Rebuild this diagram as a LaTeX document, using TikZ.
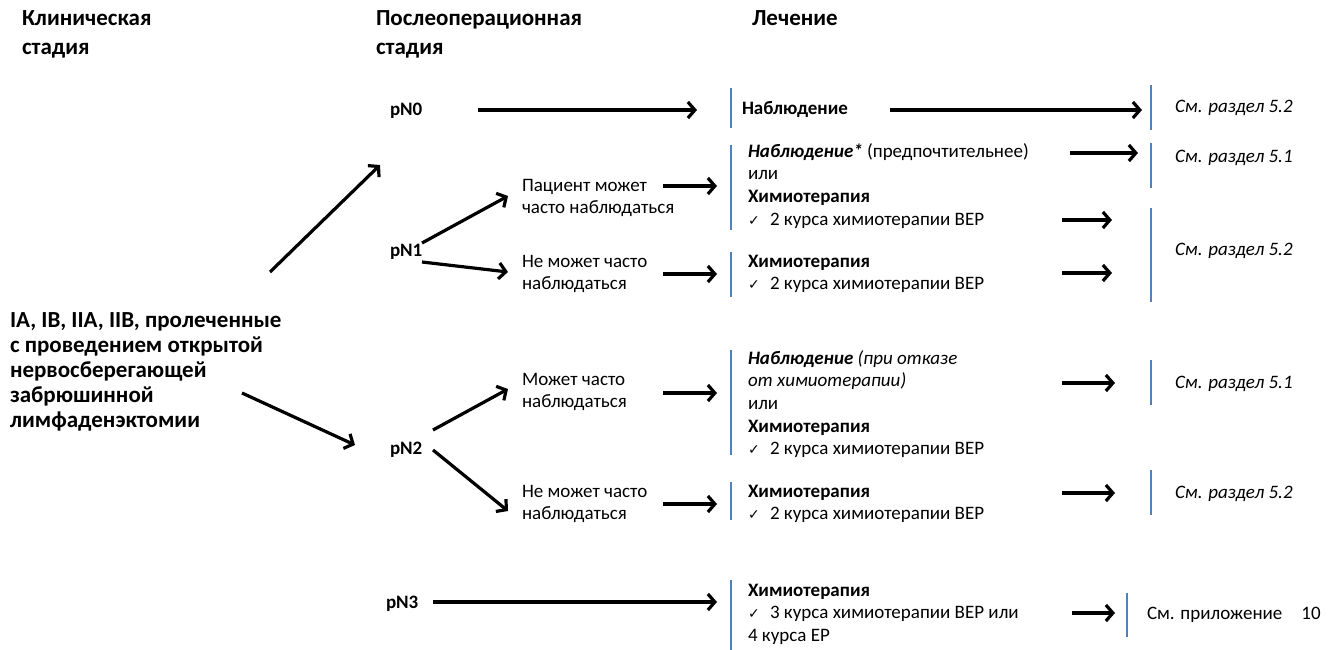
\documentclass[tikz,border=0pt]{standalone}
\usepackage{fontspec}
\setmainfont{Carlito}
\newfontfamily\dejavu{DejaVu Sans}
\usetikzlibrary{arrows.meta}
\definecolor{bluel}{RGB}{79,129,189}
\newcommand\ck{\makebox[22pt][l]{\dejavu\fontsize{14}{14}\selectfont ✓}}
\begin{document}
\begin{tikzpicture}[x=1pt,y=-1pt,
  every node/.style={inner sep=0pt, outer sep=0pt, anchor=base west, align=left},
  body/.style={font=\fontsize{19}{22.7}\selectfont},
  head/.style={font=\fontsize{23}{29}\selectfont\bfseries},
  lefttext/.style={font=\fontsize{23}{25}\selectfont\bfseries},
  pn/.style={font=\fontsize{19}{22}\selectfont\bfseries},
  seeref/.style={font=\fontsize{19}{22}\selectfont\itshape},
  arr/.style={line width=3.2pt, -{Straight Barb[length=7pt,width=16pt]}},
  bline/.style={draw=bluel, line width=1.3pt}]
\useasboundingbox (0,0) rectangle (1333,650);
\fill[white] (0,0) rectangle (1333,650);

% headers (anchor = baseline of the last line)
\node[head] (hclin) at (22,55) {Клиническая\\стадия};
\node[head] (hpost) at (376,55) {Послеоперационная\\стадия};
\node[head] (htreat) at (752,26) {Лечение};

% clinical stage
\node[lefttext] (stage) at (10,427) {IA, IB, IIA, IIB, пролеченные\\с проведением открытой\\нервосберегающей\\забрюшинной\\лимфаденэктомии};

% pN labels
\node[pn] (pN0) at (390,116) {pN0};
\node[pn] (pN1) at (390,256) {pN1};
\node[pn] (pN2) at (390,454) {pN2};
\node[pn] (pN3) at (386,608) {pN3};

% middle conditions
\node[body] (m1a) at (522,213.7) {Пациент может\\часто наблюдаться};
\node[body] (m1b) at (522,289.7) {Не может часто\\наблюдаться};
\node[body] (m2a) at (522,407.7) {Может часто\\наблюдаться};
\node[body] (m2b) at (522,519.7) {Не может часто\\наблюдаться};

% treatments
\node[body] (t0) at (742,115) {\textbf{Наблюдение}};
\node[body] (t1a) at (748,225.1) {\textbf{\textit{Наблюдение*}} (предпочтительнее)\\или\\\textbf{Химиотерапия}\\\ck 2 курса химиотерапии BEP};
\node[body] (t1b) at (748,289.7) {\textbf{Химиотерапия}\\\ck 2 курса химиотерапии BEP};
\node[body] (t2a) at (748,454.8) {\textbf{\textit{Наблюдение}} \textit{(при отказе}\\\textit{от химиотерапии)}\\или\\\textbf{Химиотерапия}\\\ck 2 курса химиотерапии BEP};
\node[body] (t2b) at (748,519.7) {\textbf{Химиотерапия}\\\ck 2 курса химиотерапии BEP};
\node[body] (t3) at (748,641.4) {\textbf{Химиотерапия}\\\ck 3 курса химиотерапии BEP или\\4 курса EP};

% references
\node[seeref] (r0) at (1175,113) {См. раздел 5.2};
\node[seeref] (r1) at (1175,163) {См. раздел 5.1};
\node[seeref] (r2) at (1175,255) {См. раздел 5.2};
\node[seeref] (r3) at (1175,388) {См. раздел 5.1};
\node[seeref] (r4) at (1175,498) {См. раздел 5.2};
\node[body] (r5) at (1147,619) {См. приложение\quad 10};

% blue bars
\draw[bline] (731,88) coordinate (bl0a) -- (731,128) coordinate (bl0b);
\draw[bline] (731,145) coordinate (bl1a) -- (731,230) coordinate (bl1b);
\draw[bline] (731,252) coordinate (bl2a) -- (731,297) coordinate (bl2b);
\draw[bline] (731,350) coordinate (bl3a) -- (731,455) coordinate (bl3b);
\draw[bline] (731,482) coordinate (bl4a) -- (731,520) coordinate (bl4b);
\draw[bline] (731,580) coordinate (bl5a) -- (731,650) coordinate (bl5b);
\draw[bline] (1151,85) coordinate (br0a) -- (1151,130) coordinate (br0b);
\draw[bline] (1151,143) coordinate (br1a) -- (1151,188) coordinate (br1b);
\draw[bline] (1151,208) coordinate (br2a) -- (1151,302) coordinate (br2b);
\draw[bline] (1151,360) coordinate (br3a) -- (1151,405) coordinate (br3b);
\draw[bline] (1151,470) coordinate (br4a) -- (1151,515) coordinate (br4b);
\draw[bline] (1127,593) coordinate (br5a) -- (1127,637) coordinate (br5b);

% arrow end points
\coordinate (sA) at (270,272);  \coordinate (eA) at (380,165);
\coordinate (sB) at (242,393);  \coordinate (eB) at (355,445);
\coordinate (s0) at (478,110);  \coordinate (e0) at (697,110);
\coordinate (s1a) at (422,243); \coordinate (e1a) at (508,196);
\coordinate (s1b) at (422,262); \coordinate (e1b) at (508,272);
\coordinate (s2a) at (433,430); \coordinate (e2a) at (508,389);
\coordinate (s2b) at (433,450); \coordinate (e2b) at (508,511);
\coordinate (sm1a) at (663,186); \coordinate (em1a) at (717,186);
\coordinate (sm1b) at (663,274); \coordinate (em1b) at (717,274);
\coordinate (sm2a) at (663,393); \coordinate (em2a) at (717,393);
\coordinate (sm2b) at (663,504); \coordinate (em2b) at (717,504);
\coordinate (s3) at (433,602);  \coordinate (e3) at (717,602);
\coordinate (st0) at (890,110);  \coordinate (et0) at (1142,110);
\coordinate (st1a) at (1070,153); \coordinate (et1a) at (1138,153);
\coordinate (st1c) at (1062,220); \coordinate (et1c) at (1112,220);
\coordinate (st1b) at (1062,273); \coordinate (et1b) at (1112,273);
\coordinate (st2a) at (1062,383); \coordinate (et2a) at (1115,383);
\coordinate (st2b) at (1062,493); \coordinate (et2b) at (1115,493);
\coordinate (st3) at (1072,613); \coordinate (et3) at (1115,613);

% arrows
\draw[arr] (sA) -- (eA);
\draw[arr] (sB) -- (eB);
\draw[arr] (s0) -- (e0);
\draw[arr] (s1a) -- (e1a);
\draw[arr] (s1b) -- (e1b);
\draw[arr] (s2a) -- (e2a);
\draw[arr] (s2b) -- (e2b);
\draw[arr] (sm1a) -- (em1a);
\draw[arr] (sm1b) -- (em1b);
\draw[arr] (sm2a) -- (em2a);
\draw[arr] (sm2b) -- (em2b);
\draw[arr] (s3) -- (e3);
\draw[arr] (st0) -- (et0);
\draw[arr] (st1a) -- (et1a);
\draw[arr] (st1c) -- (et1c);
\draw[arr] (st1b) -- (et1b);
\draw[arr] (st2a) -- (et2a);
\draw[arr] (st2b) -- (et2b);
\draw[arr] (st3) -- (et3);
\end{tikzpicture}
\end{document}
